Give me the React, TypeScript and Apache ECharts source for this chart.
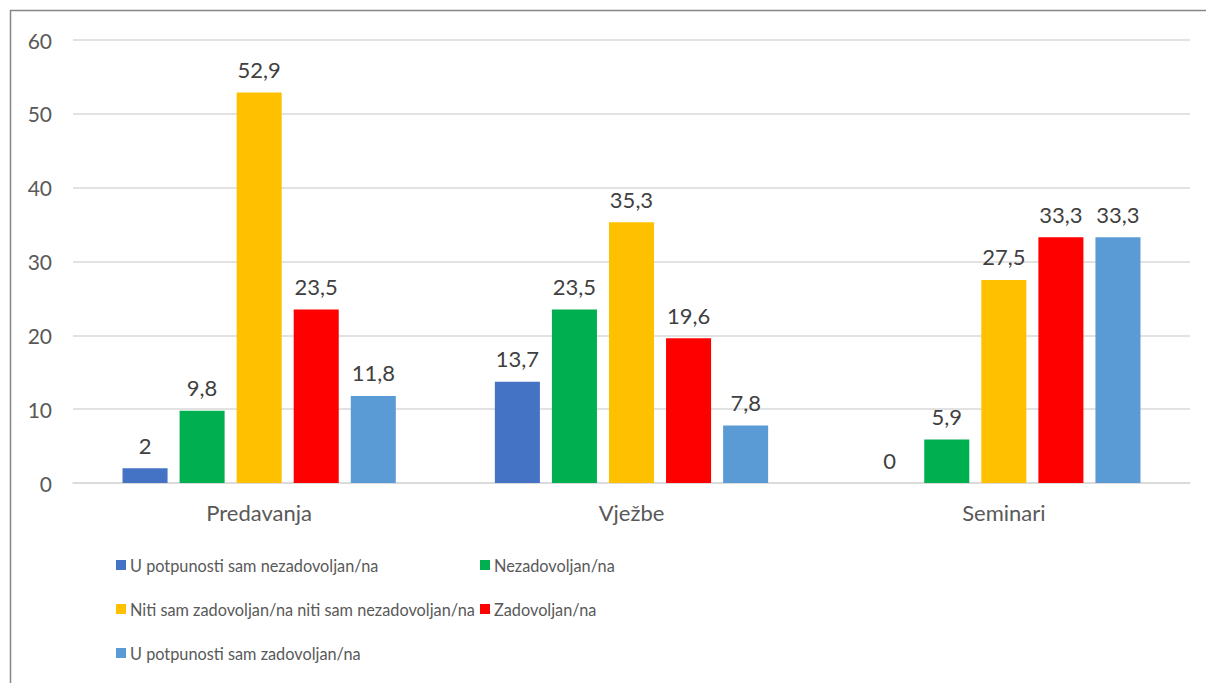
import React, { useEffect, useRef } from "react";
import * as echarts from "echarts";

const categories = ["Predavanja", "Vježbe", "Seminari"];
const seriesNames = [
  "U potpunosti sam nezadovoljan/na",
  "Nezadovoljan/na",
  "Niti sam zadovoljan/na niti sam nezadovoljan/na",
  "Zadovoljan/na",
  "U potpunosti sam zadovoljan/na",
];
const seriesValues = [
  [2, 13.7, 0],
  [9.8, 23.5, 5.9],
  [52.9, 35.3, 27.5],
  [23.5, 19.6, 33.3],
  [11.8, 7.8, 33.3],
];
const colors = ["#4472C4", "#00B050", "#FFC000", "#FF0000", "#5B9BD5"];
const yTicks = { min: 0, max: 60, interval: 10 };

const FONT = "Lato, 'Open Sans', sans-serif";
const TEXT = "#595959";

export default function App() {
  const ref = useRef<HTMLDivElement>(null);
  useEffect(() => {
    const chart = echarts.init(ref.current!, null, { renderer: "svg" });
    const legendPos = [
      { left: 116, top: 557 },
      { left: 480, top: 557 },
      { left: 116, top: 601 },
      { left: 480, top: 601 },
      { left: 116, top: 645 },
    ];
    chart.setOption({
      animation: false,
      color: colors,
      graphic: [
        {
          type: "rect",
          shape: { x: 10.5, y: 10.5, width: 1300, height: 800 },
          style: { fill: "none", stroke: "#868686", lineWidth: 1.5 },
          silent: true,
        },
      ],
      grid: { left: 73, right: 16, top: 40, bottom: 200, containLabel: false },
      xAxis: {
        type: "category",
        data: categories,
        axisLine: { lineStyle: { color: "#D9D9D9", width: 1.5 } },
        axisTick: { show: false },
        axisLabel: { color: TEXT, fontSize: 22, fontFamily: FONT, margin: 18 },
      },
      yAxis: {
        type: "value",
        min: yTicks.min,
        max: yTicks.max,
        interval: yTicks.interval,
        axisLine: { show: false },
        axisTick: { show: false },
        splitLine: { lineStyle: { color: "#D9D9D9", width: 1.5 } },
        axisLabel: { color: TEXT, fontSize: 21, fontFamily: FONT, margin: 21 },
      },
      legend: seriesNames.map((n, i) => ({
        data: [n],
        left: legendPos[i].left,
        top: legendPos[i].top,
        icon: "rect",
        itemWidth: 10,
        itemHeight: 10,
        itemGap: 6,
        padding: 0,
        selectedMode: false,
        textStyle: { color: TEXT, fontSize: 16.3, fontFamily: FONT, padding: [0, 0, 0, -1] },
      })),
      series: seriesNames.map((n, i) => ({
        name: n,
        type: "bar",
        data: seriesValues[i],
        barGap: "26.7%",
        barCategoryGap: "26.6%",
        label: {
          show: true,
          position: "top",
          distance: 12,
          color: "#404040",
          fontSize: 22,
          fontFamily: FONT,
          formatter: (p: any) => String(p.value).replace(".", ","),
        },
      })),
    });
    return () => chart.dispose();
  }, []);
  return (
    <div
      ref={ref}
      style={{ position: "absolute", left: 0, top: 0, width: 1206, height: 683, background: "#fff" }}
    />
  );
}
